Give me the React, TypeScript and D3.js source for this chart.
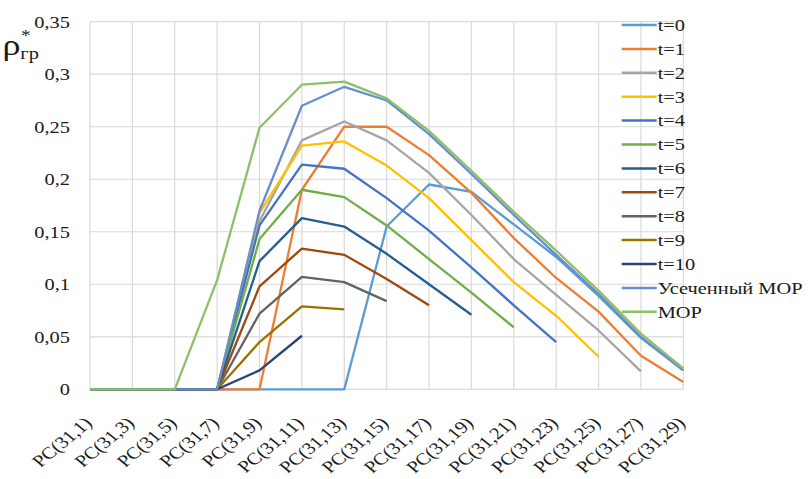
import React from "react";
import * as d3 from "d3";

const categories = [
  "PC(31,1)", "PC(31,3)", "PC(31,5)", "PC(31,7)", "PC(31,9)", "PC(31,11)", "PC(31,13)",
  "PC(31,15)", "PC(31,17)", "PC(31,19)", "PC(31,21)", "PC(31,23)", "PC(31,25)", "PC(31,27)", "PC(31,29)",
];

const yTicks = [0, 0.05, 0.1, 0.15, 0.2, 0.25, 0.3, 0.35];
const yTickLabels = ["0", "0,05", "0,1", "0,15", "0,2", "0,25", "0,3", "0,35"];

type V = number | null;
const t0: V[] = [0, 0, 0, 0, 0, 0, 0, 0.155, 0.195, 0.188, 0.157, 0.126, 0.089, 0.049, 0.018];
const t1: V[] = [0, 0, 0, 0, 0, 0.19, 0.25, 0.25, 0.223, 0.187, 0.144, 0.106, 0.074, 0.032, 0.007];
const t2: V[] = [0, 0, 0, 0, 0.16, 0.237, 0.255, 0.237, 0.206, 0.166, 0.124, 0.09, 0.056, 0.017, null];
const t3: V[] = [0, 0, 0, 0, 0.168, 0.232, 0.236, 0.213, 0.182, 0.142, 0.102, 0.07, 0.031, null, null];
const t4: V[] = [0, 0, 0, 0, 0.156, 0.214, 0.21, 0.182, 0.151, 0.116, 0.08, 0.045, null, null, null];
const t5: V[] = [0, 0, 0, 0, 0.143, 0.19, 0.183, 0.156, 0.124, 0.092, 0.059, null, null, null, null];
const t6: V[] = [0, 0, 0, 0, 0.122, 0.163, 0.155, 0.129, 0.1, 0.071, null, null, null, null, null];
const t7: V[] = [0, 0, 0, 0, 0.098, 0.134, 0.128, 0.105, 0.08, null, null, null, null, null, null];
const t8: V[] = [0, 0, 0, 0, 0.072, 0.107, 0.102, 0.084, null, null, null, null, null, null, null];
const t9: V[] = [0, 0, 0, 0, 0.045, 0.079, 0.076, null, null, null, null, null, null, null, null];
const t10: V[] = [0, 0, 0, 0, 0.018, 0.051, null, null, null, null, null, null, null, null, null];
const truncMOP: V[] = [0, 0, 0, 0, 0.17, 0.27, 0.288, 0.275, 0.243, 0.205, 0.166, 0.128, 0.091, 0.05, 0.018];
const fullMOP: V[] = [0, 0, 0, 0.104, 0.249, 0.29, 0.293, 0.277, 0.246, 0.208, 0.169, 0.132, 0.094, 0.053, 0.02];

const seriesNames = ["t=0", "t=1", "t=2", "t=3", "t=4", "t=5", "t=6", "t=7", "t=8", "t=9", "t=10", "Усеченный МОР", "МОР"];
const seriesValues = [t0, t1, t2, t3, t4, t5, t6, t7, t8, t9, t10, truncMOP, fullMOP];
const seriesColors = [
  "#5B9BD5", "#ED7D31", "#A5A5A5", "#FFC000", "#4472C4", "#70AD47", "#255E91",
  "#9E480E", "#636363", "#997300", "#264478", "#698ED0", "#8CC168",
];

const FONT = "'Liberation Serif', 'DejaVu Serif', serif";
const SX = 1.2;
const txt = { fontFamily: FONT };

export default function App() {
  const W = 812, H = 479;
  const left = 90, right = 683.3, top = 21.7, bottom = 389.3;
  const x = d3.scalePoint<string>().domain(categories).range([left, right]);
  const y = d3.scaleLinear().domain([0, 0.35]).range([bottom, top]);
  const line = d3
    .line<V>()
    .defined((d) => d !== null)
    .x((_, i) => x(categories[i]) as number)
    .y((d) => y(d as number));

  const legendX = 621.7, legendY0 = 25, legendStep = 23.9;

  return (
    <svg width={W} height={H} style={{ position: "absolute", left: 0, top: 0, background: "#fff" }}>
      <rect width={W} height={H} fill="#fff" />
      {yTicks.map((t) => (
        <line key={"h" + t} x1={left} x2={right} y1={y(t)} y2={y(t)} stroke="#D9D9D9" strokeWidth={1.2} />
      ))}
      {categories.map((c) => (
        <line key={"v" + c} x1={x(c)} x2={x(c)} y1={top} y2={bottom} stroke="#D9D9D9" strokeWidth={1.2} />
      ))}
      {yTicks.map((t, i) => (
        <text key={"yl" + t} style={txt} transform={`translate(70,${y(t)}) scale(${SX},1)`} textAnchor="end" dominantBaseline="central" fontSize={17} fill="#1a1a1a">
          {yTickLabels[i]}
        </text>
      ))}
      {categories.map((c) => (
        <text key={"xl" + c} style={txt} transform={`translate(${(x(c) as number) + 3},${bottom + 35}) scale(${SX},1) rotate(-45)`} textAnchor="end" fontSize={17} fill="#1a1a1a">
          {c}
        </text>
      ))}
      {seriesValues.map((vals, i) => (
        <path key={"s" + i} d={line(vals) || ""} fill="none" stroke={seriesColors[i]} strokeWidth={2.3} strokeLinejoin="round" />
      ))}
      {seriesNames.map((n, i) => (
        <g key={"lg" + i} transform={`translate(${legendX},${legendY0 + i * legendStep})`}>
          <line x1={0} x2={35} y1={0} y2={0} stroke={seriesColors[i]} strokeWidth={2.5} />
          <text style={txt} transform={`translate(36,0) scale(${SX},1)`} dominantBaseline="central" fontSize={17} fill="#1a1a1a">
            {n}
          </text>
        </g>
      ))}
      <text style={txt} transform={`scale(${SX},1)`} x={2} y={55} fontSize={30} fill="#1a1a1a">
        ρ
        <tspan fontSize={17} dy={4}>гр</tspan>
        <tspan fontSize={16} dx={-15} dy={-18}>*</tspan>
      </text>
    </svg>
  );
}
